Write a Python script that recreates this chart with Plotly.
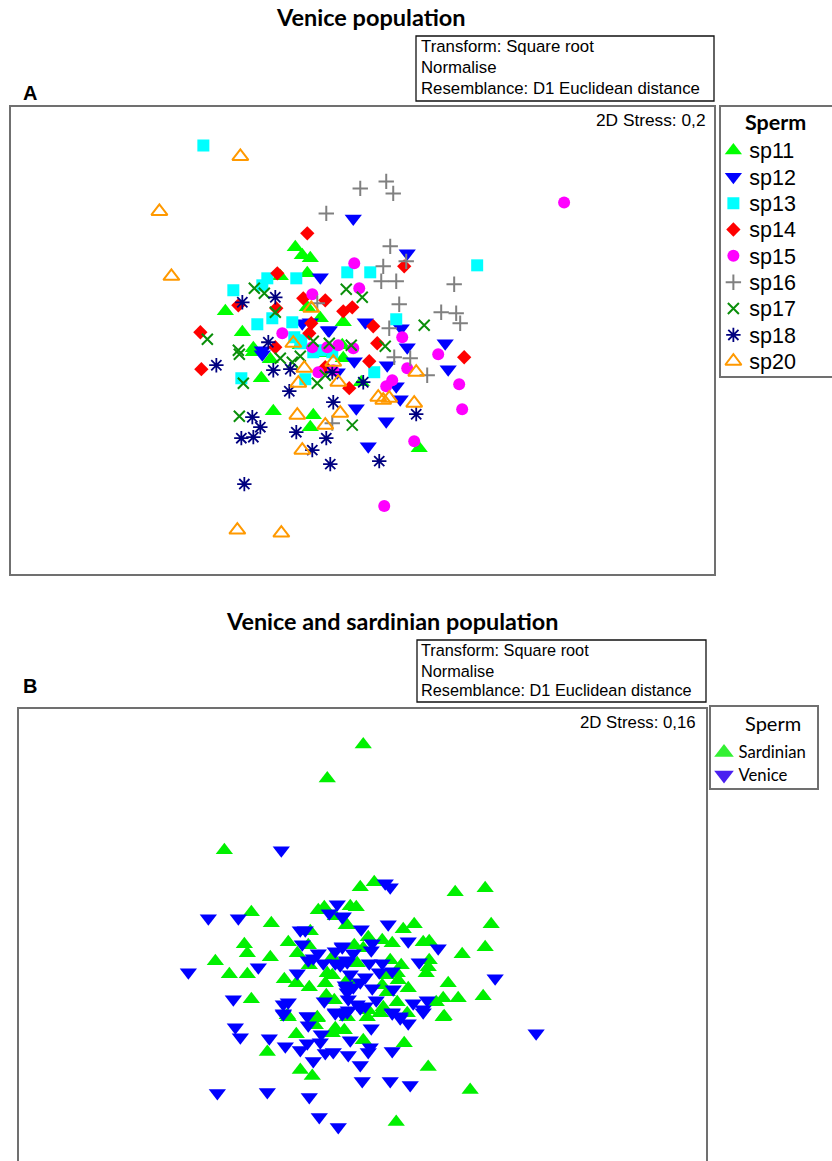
import plotly.graph_objects as go

W, H = 832, 1161

# ---- Panel A: ordination scores (x, y on the panel scale) ----
sp11_x = [295,302,310,307,280,225,242,307,320,253,343,253,270,261,273,313,310,320,343,361,419,300,342]
sp11_y = [247,255,258,273,276,311,332,307,318,348,322,352,359,378,411,415,427,353,358,382,448,345,345]
sp12_x = [320,302,310,328,262,353,407,329,365,401,407,445,262,354,387,448,396,400,356,386,368,337]
sp12_y = [277,323,322,330,350,218,253,330,322,328,347,343,354,361,365,369,386,399,408,421,446,372]
sp13_x = [203,233,267,262,296,272,257,292,294,301,347,370,477,396,241,305,313,300,374,332,320]
sp13_y = [145,290,278,285,278,318,324,322,337,340,272,272,265,319,378,379,352,343,372,352,350]
sp14_x = [307,277,238,276,303,325,311,309,200,275,404,343,352,373,377,201,325,369,464,349]
sp14_y = [233,273,305,308,298,300,323,333,332,347,266,311,307,326,343,369,367,361,357,388]
sp15_x = [312,282,312,327,354,359,402,338,353,564,318,333,438,407,459,462,386,392,414,384]
sp15_y = [294,333,347,347,263,288,337,345,348,202,372,370,354,368,384,409,386,380,441,506]
sp16_x = [317,360,386,393,326,390,406,383,381,396,454,399,441,456,460,389,394,410,427,332]
sp16_y = [303,188,181,193,213,246,261,266,281,281,284,304,312,313,323,328,357,358,375,423]
sp17_x = [254,264,275,207,313,238,346,362,424,329,351,385,239,243,239,280,300,292,317,325,352]
sp17_y = [288,293,312,339,341,350,289,297,325,343,345,346,354,383,416,358,356,362,383,375,425]
sp18_x = [242,275,268,216,273,290,289,333,252,260,241,253,296,326,312,330,244,332,363,416,379]
sp18_y = [302,297,342,365,370,369,391,402,417,427,438,437,432,438,450,464,484,372,382,414,461]
sp20_x = [240,159,171,311,293,304,298,297,325,302,237,281,333,338,340,378,383,389,416,414]
sp20_y = [156,211,276,308,343,368,383,415,425,450,530,533,362,382,413,397,400,398,372,403]

# ---- Panel B ----
sardinian_x = [363,327,224,251,271,244,247,215,229,247,270,288,297,310,308,318,324,335,346,309,284,296,309,251,325,327,332,326,334,332,317,288,348,
               360,374,455,485,350,356,347,414,403,491,368,382,392,423,429,485,462,354,363,429,428,426,390,401,357,387,397,398,382,408,387,448,483,458,443,436,397,347,383,380,368,444,
               287,317,315,347,367,380,407,443,335,332,344,296,363,404,267,300,312,428,470,396]
sardinian_y = [744,778,850,912,923,944,953,961,974,974,957,942,953,931,945,910,907,916,925,965,979,983,987,999,983,973,975,995,1000,957,1017,1017,980,
               887,882,892,888,906,907,925,924,929,924,937,940,943,942,941,947,954,945,948,960,967,973,960,965,963,975,973,980,985,988,992,983,996,998,998,1002,1002,980,1007,1013,1010,1016,
               1015,1018,1025,1017,1017,1013,1013,1017,1028,1033,1030,1034,1040,1043,1052,1070,1076,1067,1090,1122]
venice_x = [281,208,238,188,233,258,300,305,302,297,308,313,318,323,335,342,335,340,347,337,329,342,283,288,283,307,324,335,345,347,347,
            385,390,343,361,388,408,438,372,371,353,342,346,369,382,419,350,392,379,365,360,353,346,372,393,495,376,348,357,365,413,427,423,392,400,348,360,536,
            235,240,269,285,283,307,308,321,320,307,300,325,333,348,350,371,370,368,392,313,360,362,390,410,217,267,309,319,338,408,400,392,335,342,423]
venice_y = [850,918,918,972,999,967,930,930,944,973,960,958,953,963,951,946,963,965,962,904,913,917,1004,1002,1013,1016,1001,1012,985,1012,992,
            883,887,916,929,924,941,948,943,950,953,947,960,963,963,962,974,971,972,977,982,987,988,988,989,978,1000,999,1004,1006,1003,1000,1009,1012,1016,1010,1008,1033,
            1027,1037,1038,1046,1014,1016,1025,1034,1042,1043,1050,1053,1052,1055,1040,1028,1047,1052,1051,1061,1065,1081,1081,1085,1093,1092,1097,1117,1127,1023,1018,1013,1013,1014,1012]

# ---- Legends ----
legend_a_labels = ["sp11","sp12","sp13","sp14","sp15","sp16","sp17","sp18","sp20"]
legend_b_labels = ["Sardinian","Venice"]
legend_a_rows = [0,1,2,3,4,5,6,7,8]
legend_b_rows = [0,1]

# ---- Styling ----
GREEN, BLUE, CYAN, RED, MAG = "#00ff00", "#0000ff", "#00ffff", "#ff0000", "#ff00ff"
GRAY, DGREEN, NAVY, ORANGE = "#808080", "#0a8f0a", "#000080", "#ff9900"
styles = [
    dict(symbol="triangle-up", size=15, color=GREEN),
    dict(symbol="triangle-down", size=15, color=BLUE),
    dict(symbol="square", size=12, color=CYAN),
    dict(symbol="diamond", size=11, color=RED),
    dict(symbol="circle", size=12, color=MAG),
    dict(symbol="cross-thin-open", size=11, color=GRAY, line=dict(color=GRAY, width=2)),
    dict(symbol="x-thin-open", size=11, color=DGREEN, line=dict(color=DGREEN, width=2)),
    dict(symbol="asterisk-open", size=12, color=NAVY, line=dict(color=NAVY, width=1.8)),
    dict(symbol="triangle-up-open", size=14, color=ORANGE, line=dict(color=ORANGE, width=2)),
]
series_a = [(sp11_x,sp11_y),(sp12_x,sp12_y),(sp13_x,sp13_y),(sp14_x,sp14_y),(sp15_x,sp15_y),
            (sp16_x,sp16_y),(sp17_x,sp17_y),(sp18_x,sp18_y),(sp20_x,sp20_y)]

def px(x): return x / W
def py(y): return 1 - y / H

fig = go.Figure()
for lab, (xs, ys), st in zip(legend_a_labels, series_a, styles):
    fig.add_trace(go.Scatter(x=xs, y=ys, mode="markers", name=lab, marker=st, xaxis="x", yaxis="y", showlegend=False))

fig.add_trace(go.Scatter(x=sardinian_x, y=sardinian_y, mode="markers", name="Sardinian", showlegend=False,
                         marker=dict(symbol="triangle-up", size=15, color="#00f000"), xaxis="x2", yaxis="y2"))
fig.add_trace(go.Scatter(x=venice_x, y=venice_y, mode="markers", name="Venice", showlegend=False,
                         marker=dict(symbol="triangle-down", size=15, color=BLUE), xaxis="x2", yaxis="y2"))

# Legend A as its own small axes
for row, st in zip(legend_a_rows, styles):
    fig.add_trace(go.Scatter(x=[13], y=[row], mode="markers", marker=st, showlegend=False, xaxis="x3", yaxis="y3"))
fig.add_trace(go.Scatter(x=[29]*9, y=[r + 0.09 for r in legend_a_rows], mode="text", text=legend_a_labels, textposition="middle right",
                         textfont=dict(family="Liberation Sans", size=21.5, color="black"), showlegend=False, xaxis="x3", yaxis="y3"))
# Legend B
fig.add_trace(go.Scatter(x=[13], y=[0], mode="markers", marker=dict(symbol="triangle-up", size=17, color="#33f033"),
                         showlegend=False, xaxis="x4", yaxis="y4"))
fig.add_trace(go.Scatter(x=[13], y=[1], mode="markers", marker=dict(symbol="triangle-down", size=17, color="#4a20f0"),
                         showlegend=False, xaxis="x4", yaxis="y4"))
fig.add_trace(go.Scatter(x=[27.5]*2, y=[r + 0.07 for r in legend_b_rows], mode="text", text=legend_b_labels, textposition="middle right",
                         textfont=dict(family="Lato", size=16.7, color="black"), showlegend=False, xaxis="x4", yaxis="y4"))

FRAME = dict(color="#707070", width=1.5)
def ax(rng, dom, **kw):
    d = dict(range=rng, domain=dom, showgrid=False, zeroline=False, showticklabels=False, ticks="",
             showline=True, linecolor=FRAME["color"], linewidth=1.5, mirror=True, fixedrange=True)
    d.update(kw)
    return d

annotations = []
def txt(x, y, s, size, family="Liberation Sans", bold=False, anchor="left", color="black"):
    annotations.append(dict(x=px(x), y=py(y), xref="paper", yref="paper", text=f"<b>{s}</b>" if bold else s,
                            showarrow=False, xanchor=anchor, yanchor="middle",
                            font=dict(family=family, size=size, color=color)))

txt(371, 17, "Venice population", 23.5, "Lato", True, "center")
txt(392, 621, "Venice and sardinian population", 23.4, "Lato", True, "center")
txt(21, 93, "A", 20, "Liberation Sans", True)
txt(21, 686, "B", 20, "Liberation Sans", True)
for y, s in zip((46, 68, 89), ("Transform: Square root", "Normalise", "Resemblance: D1 Euclidean distance")):
    txt(419, y, s, 16.8)
for y, s in zip((650, 671, 690), ("Transform: Square root", "Normalise", "Resemblance: D1 Euclidean distance")):
    txt(419, y, s, 16.3)
txt(708, 120, "2D Stress: 0,2", 17.3, anchor="right")
txt(698, 722, "2D Stress: 0,16", 16.8, anchor="right")
txt(775, 122, "Sperm", 21.5, "Lato", True, "center")
txt(773, 723, "Sperm", 20, "Lato", False, "center")

shapes = [
    dict(type="rect", xref="paper", yref="paper", x0=px(416), x1=px(714), y0=py(101), y1=py(36), line=dict(color="#111", width=1.3)),
    dict(type="rect", xref="paper", yref="paper", x0=px(417), x1=px(706), y0=py(702), y1=py(640), line=dict(color="#111", width=1.3)),
]

fig.update_layout(
    width=W, height=H, margin=dict(l=0, r=0, t=0, b=0), paper_bgcolor="white", plot_bgcolor="rgba(0,0,0,0)",
    showlegend=False, hovermode=False, annotations=annotations, shapes=shapes,
    xaxis=ax([10, 714], [px(10.5), px(714)], anchor="y"),
    yaxis=ax([574, 106], [py(574), py(106.5)], anchor="x"),
    xaxis2=ax([18, 706], [px(18.5), px(706)], anchor="y2", mirror=False, side="top"),
    yaxis2=ax([1161, 708], [0, py(708.5)], anchor="x2", mirror=True),
    xaxis3=ax([0, 112], [px(720.5), px(831.5)], anchor="y3"),
    yaxis3=ax([8.56, -1.667], [py(376), py(106.5)], anchor="x3"),
    xaxis4=ax([0, 106], [px(711), px(817)], anchor="y4"),
    yaxis4=ax([1.57, -2.0], [py(788), py(707)], anchor="x4"),
)
fig.write_html("out.html", config=dict(displayModeBar=False), post_script="document.body.style.margin='0';")
